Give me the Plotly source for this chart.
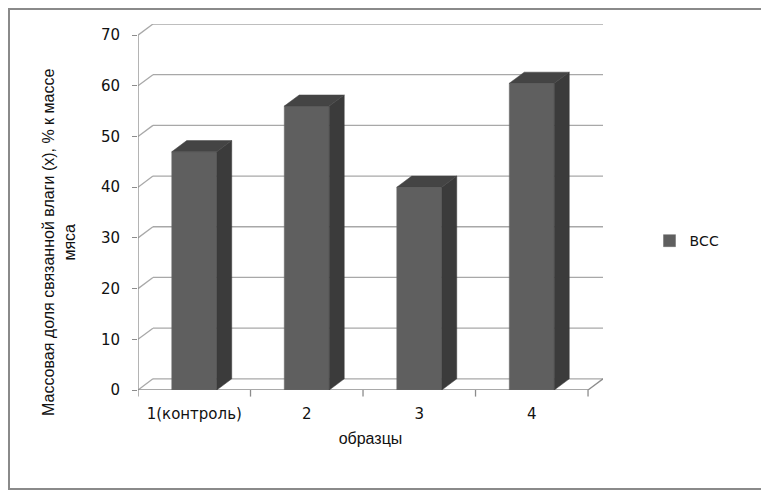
import plotly.graph_objects as go

# data
categories = ["1(контроль)", "2", "3", "4"]
bcc_values = [47, 56, 40, 60.5]
y_ticks = [0, 10, 20, 30, 40, 50, 60, 70]
series_name = "ВСС"
x_title = "образцы"
y_title = "Массовая доля связанной влаги (х), % к массе<br>мяса"

# pseudo 3d look (depth offset in axis units)
DX = 0.133
DY = 2.2
BAR_W = 0.4
FRONT = "#5f5f5f"
SIDE = "#3b3b3b"
TOP = "#444444"
GRID = "#a8a8a8"

# page body has an 8px margin, so the figure is a bit smaller and shifted
W, H = 761, 483
L, T, PW, PH = 130, 16, 465, 366

xs = list(range(len(categories)))
x_lo, x_hi = -0.5, len(categories) - 0.5

fig = go.Figure()

# front faces
fig.add_trace(go.Bar(
    x=xs, y=bcc_values, width=BAR_W, name=series_name,
    marker=dict(color=FRONT, line=dict(color="#6a6a6a", width=0.5)),
    hoverinfo="skip",
))

# side and top faces
for x, v in zip(xs, bcc_values):
    r = x + BAR_W / 2
    l = x - BAR_W / 2
    fig.add_trace(go.Scatter(
        x=[r, r + DX, r + DX, r, r], y=[0, DY, v + DY, v, 0],
        fill="toself", fillcolor=SIDE, mode="lines",
        line=dict(color=SIDE, width=0.5), showlegend=False, hoverinfo="skip",
    ))
    fig.add_trace(go.Scatter(
        x=[l, r, r + DX, l + DX, l], y=[v, v, v + DY, v + DY, v],
        fill="toself", fillcolor=TOP, mode="lines",
        line=dict(color=TOP, width=0.5), showlegend=False, hoverinfo="skip",
    ))

shapes = []


def seg(x0, y0, x1, y1, color=GRID, width=1.3):
    shapes.append(dict(type="line", xref="x", yref="y", x0=x0, y0=y0, x1=x1, y1=y1,
                       line=dict(color=color, width=width), layer="below"))


# back wall gridlines and left wall diagonals
for t in y_ticks:
    seg(x_lo + DX, t + DY, x_hi + DX, t + DY)
    seg(x_lo, t, x_lo + DX, t + DY)

# front value axis and floor
seg(x_lo, 0, x_lo, y_ticks[-1], color="#8c8c8c")
seg(x_lo, 0, x_hi, 0, color="#8c8c8c")
seg(x_hi, 0, x_hi + DX, DY, color="#8c8c8c")

# category tick marks on boundaries
for b in range(len(categories) + 1):
    xb = x_lo + b
    shapes.append(dict(type="line", xref="x", yref="paper", x0=xb, x1=xb,
                       y0=0, y1=-0.018, line=dict(color="#8c8c8c", width=1.3)))

# outer chart border
shapes.append(dict(type="rect", xref="paper", yref="paper",
                   x0=(1 - L) / PW, x1=(W - 2 - L) / PW,
                   y0=(T + PH - (H - 2)) / PH, y1=(T + PH - 1) / PH,
                   line=dict(color="#8a8a8a", width=2), layer="below"))

fig.update_layout(
    width=W, height=H,
    margin=dict(l=L, r=W - L - PW, t=T, b=H - T - PH, autoexpand=False),
    paper_bgcolor="white", plot_bgcolor="white",
    font=dict(family="DejaVu Sans", size=15, color="#111111"),
    showlegend=True,
    legend=dict(x=1.1, y=0.407, xanchor="left", yanchor="middle",
                font=dict(family="DejaVu Sans", size=14)),
    shapes=shapes,
    xaxis=dict(range=[x_lo, x_hi + DX], tickvals=xs, ticktext=categories,
               showgrid=False, zeroline=False, showline=False, ticks="",
               ticklabelstandoff=13,
               title=dict(text=x_title, standoff=10,
                          font=dict(family="Liberation Sans", size=16))),
    yaxis=dict(range=[0, y_ticks[-1] + DY], tickvals=y_ticks,
               showgrid=False, zeroline=False, showline=False,
               ticks="outside", ticklen=5, tickcolor="#8c8c8c", tickwidth=1.3,
               ticklabelstandoff=9),
    annotations=[dict(
        text=y_title, textangle=-90, xref="paper", yref="paper",
        x=-79 / PW, y=147 / PH, xanchor="center", yanchor="middle",
        showarrow=False, font=dict(family="Liberation Sans", size=16, color="#111111"),
    )],
)

fig.write_html("out.html")
